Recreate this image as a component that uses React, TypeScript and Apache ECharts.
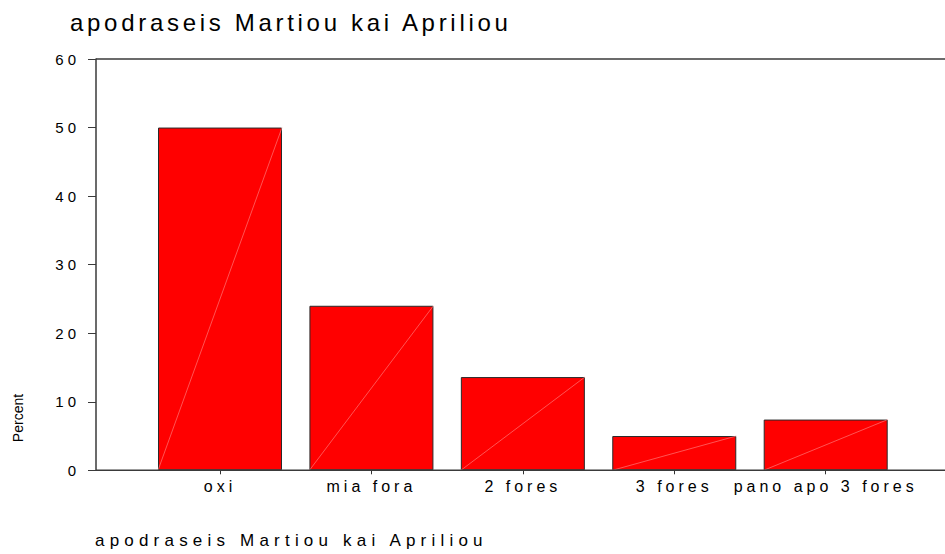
import React, { useEffect, useRef } from 'react';
import * as echarts from 'echarts';

const categories = ['oxi', 'mia fora', '2 fores', '3 fores', 'pano apo 3 fores'];
const percents = [50, 24, 13.6, 5, 7.4];
const chartTitle = 'apodraseis Martiou kai Apriliou';
const footerTitle = 'apodraseis Martiou kai Apriliou';
const yAxisTitle = 'Percent';
const yMin = 0;
const yMax = 60;
const yStep = 10;

const FONT = 'Arial, "Liberation Sans", sans-serif';

export default function App() {
  const ref = useRef<HTMLDivElement>(null);
  useEffect(() => {
    const chart = echarts.init(ref.current as HTMLDivElement, null, { renderer: 'svg' });
    const half = 62;
    chart.setOption({
      animation: false,
      backgroundColor: '#ffffff',
      title: [
        {
          text: chartTitle,
          left: 70,
          top: 10,
          padding: 0,
          textStyle: { fontSize: 24, fontWeight: 'normal', fontFamily: FONT, color: '#000' },
        },
        {
          text: footerTitle,
          left: 95,
          top: 532,
          padding: 0,
          textStyle: { fontSize: 17, fontWeight: 'normal', fontFamily: FONT, color: '#000' },
        },
      ],
      grid: { left: 144.3, right: 43.6, top: 59, bottom: 83.7, containLabel: false },
      xAxis: {
        type: 'category',
        data: categories,
        axisLine: { show: false },
        axisTick: { show: true, alignWithLabel: true, length: 4, lineStyle: { color: '#333', width: 1 } },
        axisLabel: { interval: 0, fontSize: 16, fontFamily: FONT, color: '#000', margin: 8 },
        splitLine: { show: false },
      },
      yAxis: {
        type: 'value',
        min: yMin,
        max: yMax,
        interval: yStep,
        offset: 48.3,
        axisLine: { show: true, lineStyle: { color: '#3a3a3a', width: 1.5 } },
        axisTick: { show: true, length: 8, lineStyle: { color: '#3a3a3a', width: 1 } },
        axisLabel: { fontSize: 15, fontFamily: FONT, color: '#000', margin: 16 },
        splitLine: { show: false },
      },
      graphic: [
        {
          type: 'line',
          shape: { x1: 96, y1: 59, x2: 945, y2: 59 },
          style: { stroke: '#3a3a3a', lineWidth: 1.5 },
          z: 10,
        },
        {
          type: 'line',
          shape: { x1: 96, y1: 470.3, x2: 945, y2: 470.3 },
          style: { stroke: '#3a3a3a', lineWidth: 1.5 },
          z: 10,
        },
        {
          type: 'text',
          x: 18,
          y: 418,
          rotation: Math.PI / 2,
          style: {
            text: yAxisTitle,
            fontSize: 14,
            fontFamily: 'Liberation Sans',
            fill: '#000',
            align: 'center',
            verticalAlign: 'middle',
            textAlign: 'center',
            textVerticalAlign: 'middle',
          },
        },
      ],
      series: [
        {
          type: 'bar',
          data: percents,
          barWidth: 124,
          itemStyle: { color: '#ff0000', borderColor: '#2a2a2a', borderWidth: 1 },
          z: 2,
        },
        {
          type: 'custom',
          data: percents.map((v, i) => [i, v]),
          z: 3,
          silent: true,
          renderItem: (params: any, api: any) => {
            const i = api.value(0);
            const v = api.value(1);
            const base = api.coord([i, 0]);
            const top = api.coord([i, v]);
            return {
              type: 'line',
              shape: { x1: base[0] - half, y1: base[1], x2: base[0] + half, y2: top[1] },
              style: { stroke: '#ff8c8c', lineWidth: 0.6 },
            };
          },
        },
      ],
    });
    return () => chart.dispose();
  }, []);
  return (
    <>
      <style>{`
        body { margin: 0; }
        #chart text[style*="24px"] { letter-spacing: 3.7px; }
        #chart text[style*="17px"] { letter-spacing: 5.2px; }
        #chart text[style*="16px"] { letter-spacing: 4px; }
        #chart text[style*="15px"] { letter-spacing: 4px; }
      `}</style>
      <div id="chart" ref={ref} style={{ width: 945, height: 554 }} />
    </>
  );
}
